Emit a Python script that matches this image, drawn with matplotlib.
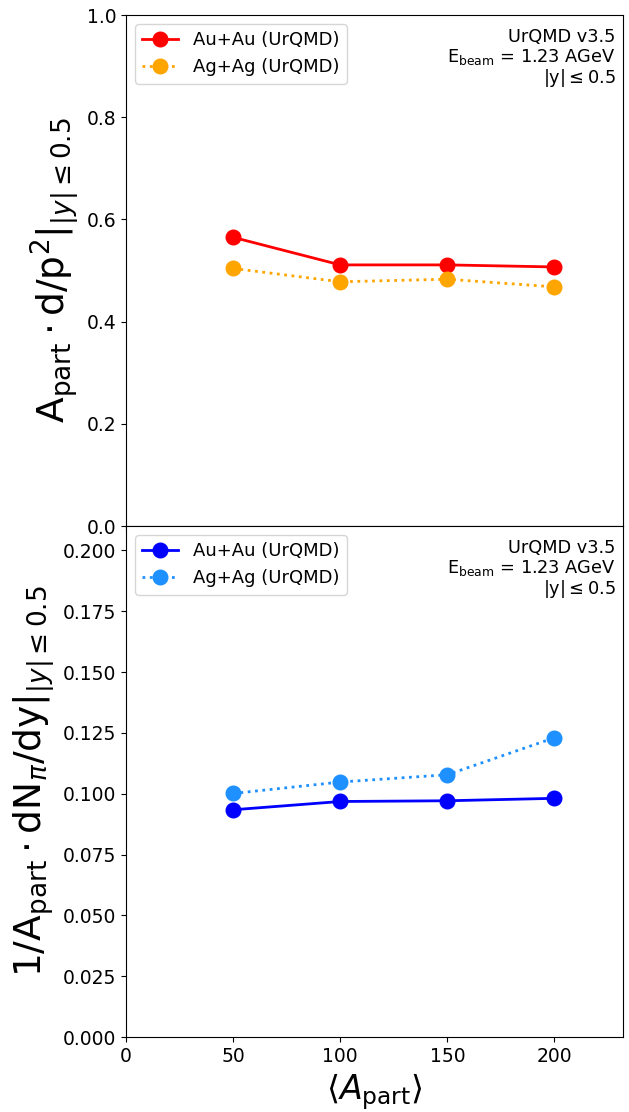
import matplotlib
matplotlib.use("Agg")
import matplotlib.pyplot as plt

plt.rcParams["font.family"] = ["DejaVu Sans"]
plt.rcParams["mathtext.fontset"] = "dejavusans"

# Mean number of participants per centrality class
a_part = [50, 100, 150, 200]

# Deuteron-to-proton-squared ratio scaled by A_part
dp2_auau = [0.565, 0.511, 0.511, 0.507]
dp2_agag = [0.504, 0.478, 0.483, 0.468]

# Pion yield per participant
pi_auau = [0.0934, 0.0968, 0.0971, 0.0981]
pi_agag = [0.1001, 0.1048, 0.1078, 0.1230]

label_auau = "Au+Au (UrQMD)"
label_agag = "Ag+Ag (UrQMD)"
info_text = "UrQMD v3.5\n$\\mathrm{E_{beam}}$ = 1.23 AGeV\n$\\mathrm{|y|}\\leq 0.5$"

fig = plt.figure(figsize=(6.29, 11.12), dpi=100)
gs = fig.add_gridspec(2, 1, left=0.2003, right=0.9905, bottom=0.0674, top=0.9865, hspace=0)
ax1 = fig.add_subplot(gs[0])
ax2 = fig.add_subplot(gs[1], sharex=ax1)

ms = 10.5
ax1.plot(a_part, dp2_auau, "-o", color="red", lw=2, ms=ms, label=label_auau)
ax1.plot(a_part, dp2_agag, ":o", color="orange", lw=2, ms=ms, label=label_agag)
ax1.set_ylim(0, 1.0)
ax1.set_ylabel(r"$\mathrm{A_{part}}\cdot\mathrm{d/p^2}|_{|y|\leq 0.5}$", fontsize=27)
plt.setp(ax1.get_xticklabels(), visible=False)

ax2.plot(a_part, pi_auau, "-o", color="blue", lw=2, ms=ms, label=label_auau)
ax2.plot(a_part, pi_agag, ":o", color="dodgerblue", lw=2, ms=ms, label=label_agag)
ax2.set_ylim(0, 0.21)
ax2.set_yticks([0.0, 0.025, 0.05, 0.075, 0.1, 0.125, 0.15, 0.175, 0.2])
ax2.set_ylabel(r"$\mathrm{1/A_{part}}\cdot\mathrm{dN}_{\pi}\mathrm{/dy}|_{|y|\leq 0.5}$", fontsize=27)
ax2.set_xlim(0, 232)
ax2.set_xticks([0, 50, 100, 150, 200])
ax2.set_xlabel(r"$\langle A_{\mathrm{part}}\rangle$", fontsize=24)

for ax in (ax1, ax2):
    ax.tick_params(labelsize=13.5)
    ax.legend(loc="upper left", fontsize=13)
    ax.text(0.985, 0.975, info_text, transform=ax.transAxes, ha="right", va="top",
            fontsize=12.8, linespacing=1.05)

fig.savefig("out.png", dpi=100)
